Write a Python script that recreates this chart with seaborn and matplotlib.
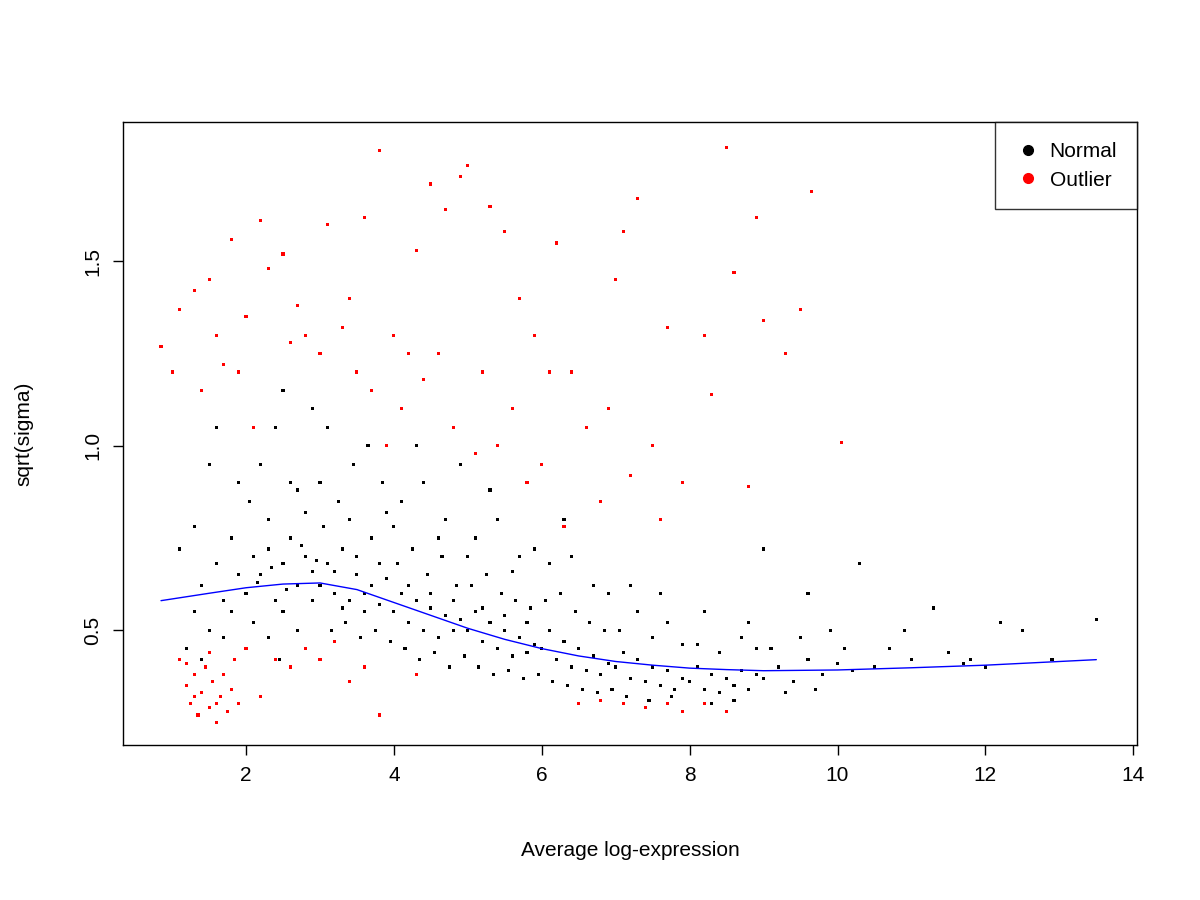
import pandas as pd
import matplotlib.pyplot as plt
import seaborn as sns
from matplotlib.lines import Line2D

# (average log-expression, sqrt(sigma)), a sample of the cloud
normal_pts = [
    (1.1,0.72),(1.2,0.45),(1.3,0.55),(1.4,0.62),(1.5,0.5),(1.6,0.68),(1.7,0.58),(1.8,0.75),(1.9,0.65),(1.3,0.78),
    (1.5,0.95),(1.6,1.05),(1.9,0.9),(1.4,0.42),(1.7,0.48),(1.8,0.55),
    (2.0,0.6),(2.1,0.7),(2.2,0.65),(2.3,0.72),(2.4,0.58),(2.5,0.68),(2.6,0.75),(2.7,0.62),(2.8,0.7),(2.9,0.66),
    (2.05,0.85),(2.2,0.95),(2.4,1.05),(2.6,0.9),(2.8,0.82),(2.1,0.52),(2.3,0.48),(2.5,0.55),(2.7,0.5),(2.9,0.58),
    (2.15,0.63),(2.35,0.67),(2.55,0.61),(2.75,0.73),(2.95,0.69),(2.5,1.15),(2.9,1.1),(2.3,0.8),(2.7,0.88),(2.45,0.42),
    (3.0,0.62),(3.1,0.68),(3.2,0.6),(3.3,0.72),(3.4,0.58),(3.5,0.65),(3.6,0.55),(3.7,0.62),(3.8,0.57),(3.9,0.64),
    (3.05,0.78),(3.25,0.85),(3.45,0.95),(3.65,1.0),(3.85,0.9),(3.15,0.5),(3.35,0.52),(3.55,0.48),(3.75,0.5),(3.95,0.47),
    (3.1,1.05),(3.4,0.8),(3.7,0.75),(3.9,0.82),(3.2,0.66),(3.5,0.7),(3.8,0.68),(3.6,0.6),(3.3,0.56),(3.0,0.9),
    (4.0,0.55),(4.1,0.6),(4.2,0.52),(4.3,0.58),(4.4,0.5),(4.5,0.56),(4.6,0.48),(4.7,0.54),(4.8,0.5),(4.9,0.53),
    (4.05,0.68),(4.25,0.72),(4.45,0.65),(4.65,0.7),(4.85,0.62),(4.15,0.45),(4.35,0.42),(4.55,0.44),(4.75,0.4),(4.95,0.43),
    (4.1,0.85),(4.4,0.9),(4.7,0.8),(4.9,0.95),(4.2,0.62),(4.5,0.6),(4.8,0.58),(4.3,1.0),(4.6,0.75),(4.0,0.78),
    (5.0,0.5),(5.1,0.55),(5.2,0.47),(5.3,0.52),(5.4,0.45),(5.5,0.5),(5.6,0.43),(5.7,0.48),(5.8,0.44),(5.9,0.46),
    (5.05,0.62),(5.25,0.65),(5.45,0.6),(5.65,0.58),(5.85,0.56),(5.15,0.4),(5.35,0.38),(5.55,0.39),(5.75,0.37),(5.95,0.38),
    (5.1,0.75),(5.4,0.8),(5.7,0.7),(5.9,0.72),(5.2,0.56),(5.5,0.54),(5.8,0.52),(5.3,0.88),(5.6,0.66),(5.0,0.7),
    (6.0,0.45),(6.1,0.5),(6.2,0.42),(6.3,0.47),(6.4,0.4),(6.5,0.45),(6.6,0.39),(6.7,0.43),(6.8,0.38),(6.9,0.41),
    (6.05,0.58),(6.25,0.6),(6.45,0.55),(6.65,0.52),(6.85,0.5),(6.15,0.36),(6.35,0.35),(6.55,0.34),(6.75,0.33),(6.95,0.34),
    (6.1,0.68),(6.4,0.7),(6.7,0.62),(6.9,0.6),(6.3,0.8),
    (7.0,0.4),(7.1,0.44),(7.2,0.37),(7.3,0.42),(7.4,0.36),(7.5,0.4),(7.6,0.35),(7.7,0.39),(7.8,0.34),(7.9,0.37),
    (7.05,0.5),(7.3,0.55),(7.5,0.48),(7.7,0.52),(7.9,0.46),(7.15,0.32),(7.45,0.31),(7.75,0.32),(7.2,0.62),(7.6,0.6),
    (8.0,0.36),(8.1,0.4),(8.2,0.34),(8.3,0.38),(8.4,0.33),(8.5,0.37),(8.6,0.35),(8.7,0.39),(8.8,0.34),(8.9,0.38),
    (8.1,0.46),(8.4,0.44),(8.7,0.48),(8.9,0.45),(8.3,0.3),(8.6,0.31),(8.2,0.55),(8.8,0.52),
    (9.0,0.37),(9.2,0.4),(9.4,0.36),(9.6,0.42),(9.8,0.38),(10.0,0.41),(9.1,0.45),(9.5,0.48),(9.9,0.5),(9.3,0.33),
    (9.7,0.34),(9.6,0.6),(10.1,0.45),(10.2,0.39),(9.0,0.72),
    (10.5,0.4),(10.7,0.45),(10.9,0.5),(11.0,0.42),(11.3,0.56),(11.5,0.44),(11.8,0.42),(12.0,0.4),(12.2,0.52),
    (12.5,0.5),(12.9,0.42),(13.5,0.53),(11.7,0.41),(10.3,0.68),
]

outlier_pts = [
    (0.85,1.27),(1.0,1.2),(1.1,1.37),(1.3,1.42),(1.4,1.15),(1.5,1.45),(1.6,1.3),(1.8,1.56),(1.9,1.2),(2.0,1.35),
    (2.3,1.48),(2.5,1.52),(2.2,1.61),(2.6,1.28),(2.8,1.3),(3.0,1.25),(3.1,1.6),(3.4,1.4),(3.6,1.62),(3.8,1.8),
    (3.5,1.2),(3.7,1.15),(4.0,1.3),(4.1,1.1),(4.3,1.53),(4.5,1.71),(4.7,1.64),(4.9,1.73),(5.0,1.76),(5.3,1.65),
    (5.5,1.58),(4.6,1.25),(4.8,1.05),(5.2,1.2),(5.4,1.0),(5.6,1.1),(5.8,0.9),(5.9,1.3),(6.0,0.95),(6.2,1.55),
    (6.4,1.2),(6.6,1.05),(6.8,0.85),(7.0,1.45),(7.1,1.58),(7.3,1.67),(7.5,1.0),(7.7,1.32),(7.9,0.9),(8.2,1.3),
    (8.5,1.81),(8.6,1.47),(8.9,1.62),(9.0,1.34),(9.3,1.25),(9.5,1.37),(9.65,1.69),(10.05,1.01),(8.3,1.14),(8.8,0.89),
    (4.2,1.25),(3.9,1.0),(2.7,1.38),(6.3,0.78),(7.2,0.92),(5.7,1.4),(3.3,1.32),(2.1,1.05),(1.7,1.22),(4.4,1.18),
    (5.1,0.98),(6.1,1.2),(6.9,1.1),(7.6,0.8),
    (1.1,0.42),(1.2,0.35),(1.25,0.3),(1.3,0.38),(1.35,0.27),(1.4,0.33),(1.45,0.4),(1.5,0.29),(1.55,0.36),(1.6,0.25),
    (1.65,0.32),(1.7,0.38),(1.75,0.28),(1.8,0.34),(1.85,0.42),(1.9,0.3),(1.2,0.41),(1.5,0.44),(1.3,0.32),(1.6,0.3),
    (2.0,0.45),(2.2,0.32),(2.4,0.42),(2.6,0.4),(2.8,0.45),(3.0,0.42),(3.2,0.47),(3.4,0.36),(3.6,0.4),(3.8,0.27),
    (4.3,0.38),
    (6.5,0.3),(6.8,0.31),(7.1,0.3),(7.4,0.29),(7.7,0.3),(7.9,0.28),(8.2,0.3),(8.5,0.28),
]

# blue trend curve, read at closer steps
trend_x = [0.85, 1.5, 2.0, 2.5, 3.0, 3.5, 4.0, 4.5, 5.0, 5.5, 6.0, 6.5, 7.0, 7.5, 8.0, 8.5, 9.0, 10.0, 11.0, 12.0, 13.5]
trend_y = [0.58, 0.60, 0.615, 0.625, 0.628, 0.61, 0.575, 0.54, 0.505, 0.475, 0.45, 0.43, 0.415, 0.405, 0.397, 0.393, 0.39, 0.392, 0.398, 0.405, 0.42]

df = pd.DataFrame(
    [(x, y, 'Normal') for x, y in normal_pts] + [(x, y, 'Outlier') for x, y in outlier_pts],
    columns=['A', 's', 'group'])

sns.set_style('ticks', {'text.color': 'black', 'axes.labelcolor': 'black',
                        'xtick.color': 'black', 'ytick.color': 'black'})
plt.rcParams['font.family'] = ['Liberation Sans', 'DejaVu Sans']

fig = plt.figure(figsize=(12, 9), dpi=100)
ax = fig.add_axes([0.1025, 0.172, 0.845, 0.692])

sns.scatterplot(data=df, x='A', y='s', hue='group', palette={'Normal': 'black', 'Outlier': 'red'},
                marker='s', s=5, linewidth=0, legend=False, ax=ax)
sns.lineplot(x=trend_x, y=trend_y, color='blue', linewidth=1, ax=ax)

ax.set_xlim(0.336, 14.05)
ax.set_ylim(0.188, 1.877)
ax.set_xticks([2, 4, 6, 8, 10, 12, 14])
ax.set_yticks([0.5, 1.0, 1.5])
ax.set_yticklabels(['0.5', '1.0', '1.5'], rotation=90, va='center')
ax.tick_params(labelsize=15, length=7, width=1, pad=8, colors='black')
for sp in ax.spines.values():
    sp.set_linewidth(1)
    sp.set_color('black')
ax.set_xlabel('Average log-expression', fontsize=15, labelpad=40, color='black')
ax.set_ylabel('sqrt(sigma)', fontsize=15, labelpad=36, color='black')

handles = [Line2D([], [], marker='o', color=c, linestyle='', markersize=7) for c in ['black', 'red']]
leg = ax.legend(handles, ['Normal', 'Outlier'], loc='upper right', fontsize=15, frameon=True,
                fancybox=False, borderaxespad=0, handletextpad=0.4, borderpad=0.95,
                handlelength=1.3, labelspacing=0.45)
leg.get_frame().set_edgecolor('black')
leg.get_frame().set_linewidth(1)
for t in leg.get_texts():
    t.set_color('black')

plt.savefig('out.png')
